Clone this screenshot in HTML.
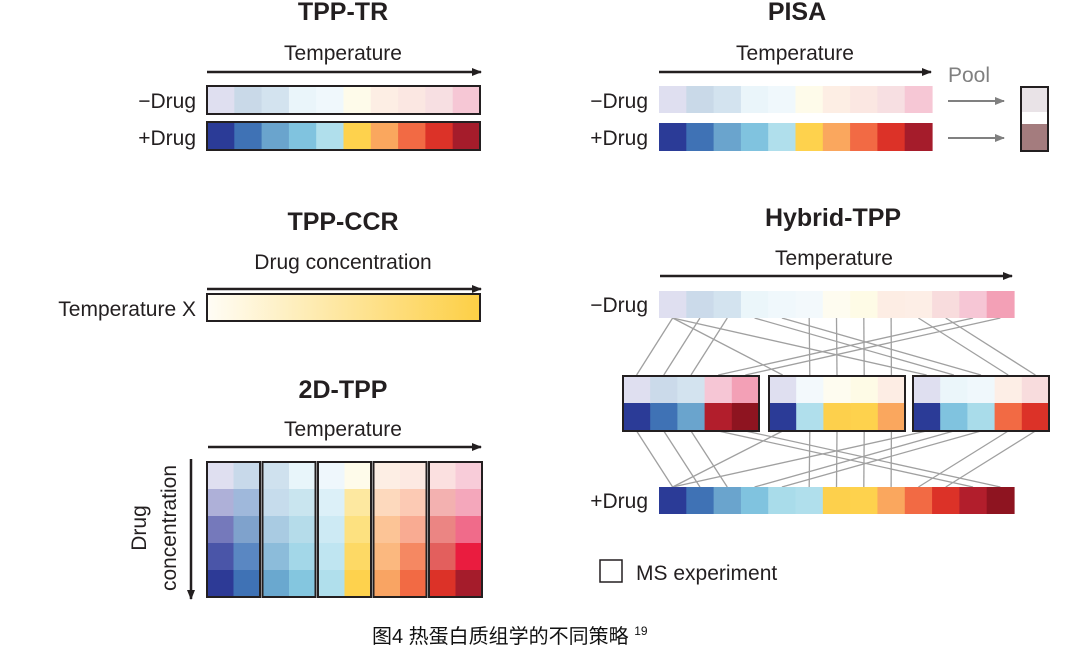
<!DOCTYPE html>
<html><head><meta charset="utf-8"><style>
html,body{margin:0;padding:0;background:#fff;width:1080px;height:666px;overflow:hidden}
svg text{font-family:"Liberation Sans","Noto Sans CJK SC",sans-serif;fill:#231f20}
</style></head><body>
<svg id="s" width="1080" height="666" viewBox="0 0 1080 666" xmlns="http://www.w3.org/2000/svg">
<defs>
<marker id="ah" markerWidth="10" markerHeight="8" refX="9" refY="4" orient="auto" markerUnits="userSpaceOnUse"><path d="M0,0 L10,4 L0,8 Z" fill="#231f20"/></marker>
<marker id="ag" markerWidth="10" markerHeight="8" refX="9" refY="4" orient="auto" markerUnits="userSpaceOnUse"><path d="M0,0 L10,4 L0,8 Z" fill="#808080"/></marker>
<linearGradient id="yg" x1="0" x2="1"><stop offset="0" stop-color="#fffdf6"/><stop offset="1" stop-color="#fdcf45"/></linearGradient>
</defs>
<g id="cells"></g>
<!-- TPP-TR -->
<text x="343" y="20" text-anchor="middle" font-size="25" font-weight="bold">TPP-TR</text>
<text x="343" y="60" text-anchor="middle" font-size="21">Temperature</text>
<line x1="207" y1="72" x2="481" y2="72" stroke="#231f20" stroke-width="2.5" marker-end="url(#ah)"/>
<text x="196" y="108" text-anchor="end" font-size="21">−Drug</text>
<text x="196" y="145" text-anchor="end" font-size="21">+Drug</text>
<!-- TPP-CCR -->
<text x="343" y="230" text-anchor="middle" font-size="25" font-weight="bold">TPP-CCR</text>
<text x="343" y="269" text-anchor="middle" font-size="21">Drug concentration</text>
<line x1="207" y1="289" x2="481" y2="289" stroke="#231f20" stroke-width="2.5" marker-end="url(#ah)"/>
<rect x="207" y="294" width="273" height="27" fill="url(#yg)" stroke="#231f20" stroke-width="2"/>
<text x="196" y="316" text-anchor="end" font-size="21">Temperature X</text>
<!-- 2D-TPP -->
<text x="343" y="398" text-anchor="middle" font-size="25" font-weight="bold">2D-TPP</text>
<text x="343" y="436" text-anchor="middle" font-size="21">Temperature</text>
<line x1="208" y1="447" x2="481" y2="447" stroke="#231f20" stroke-width="2.5" marker-end="url(#ah)"/>
<line x1="191" y1="459" x2="191" y2="599" stroke="#231f20" stroke-width="2.5" marker-end="url(#ah)"/>
<text transform="translate(146,528) rotate(-90)" text-anchor="middle" font-size="21">Drug</text>
<text transform="translate(176,528) rotate(-90)" text-anchor="middle" font-size="21">concentration</text>
<!-- PISA -->
<text x="797" y="20" text-anchor="middle" font-size="25" font-weight="bold">PISA</text>
<text x="795" y="60" text-anchor="middle" font-size="21">Temperature</text>
<line x1="659" y1="72" x2="931" y2="72" stroke="#231f20" stroke-width="2.5" marker-end="url(#ah)"/>
<text x="648" y="108" text-anchor="end" font-size="21">−Drug</text>
<text x="648" y="145" text-anchor="end" font-size="21">+Drug</text>
<text x="948" y="82" font-size="21" style="fill:#808080">Pool</text>
<line x1="948" y1="101" x2="1004" y2="101" stroke="#808080" stroke-width="2" marker-end="url(#ag)"/>
<line x1="948" y1="138" x2="1004" y2="138" stroke="#808080" stroke-width="2" marker-end="url(#ag)"/>
<rect x="1021" y="87" width="27" height="25" fill="#e9e3e7"/>
<rect x="1021" y="124" width="27" height="27" fill="#a47c7e"/>
<rect x="1021" y="87" width="27" height="64" fill="none" stroke="#231f20" stroke-width="2"/>
<!-- Hybrid -->
<text x="833" y="226" text-anchor="middle" font-size="25" font-weight="bold">Hybrid-TPP</text>
<text x="834" y="265" text-anchor="middle" font-size="21">Temperature</text>
<line x1="660" y1="276" x2="1012" y2="276" stroke="#231f20" stroke-width="2.5" marker-end="url(#ah)"/>
<text x="648" y="312" text-anchor="end" font-size="21">−Drug</text>
<text x="648" y="508" text-anchor="end" font-size="21">+Drug</text>
<rect x="600" y="560" width="22" height="22" fill="none" stroke="#231f20" stroke-width="1.5"/>
<text x="636" y="580" font-size="21">MS experiment</text>
<text x="372" y="643" font-size="20" style="fill:#111">图4 热蛋白质组学的不同策略 <tspan font-size="12" dy="-8">19</tspan></text>
</svg>
<script>
var NS="http://www.w3.org/2000/svg",g=document.getElementById("cells");
function R(x,y,w,h,f,st){var r=document.createElementNS(NS,"rect");r.setAttribute("x",x);r.setAttribute("y",y);r.setAttribute("width",w);r.setAttribute("height",h);r.setAttribute("fill",f);if(st){r.setAttribute("stroke","#231f20");r.setAttribute("stroke-width","2");}g.appendChild(r);}
function L(x1,y1,x2,y2){var l=document.createElementNS(NS,"line");l.setAttribute("x1",x1);l.setAttribute("y1",y1);l.setAttribute("x2",x2);l.setAttribute("y2",y2);l.setAttribute("stroke","#a0a0a0");l.setAttribute("stroke-width","1.3");g.appendChild(l);}
function bar(x,y,w,h,cols,border){var cw=w/cols.length;cols.forEach(function(c,i){R(x+i*cw,y,cw+0.6,h,c)});if(border)R(x,y,w,h,"none",1);}
var mT=["#dfdff0","#c9d9e8","#d3e3ef","#eaf5fa","#f0f8fc","#fefbea","#fdeee4","#fbe7e2","#f7dfe2","#f6c7d5"];
var pT=["#2b3b97","#3f72b5","#6aa4cd","#80c3df","#b0dfec","#fed24d","#faa75e","#f26a44","#dc3228","#a51c2b"];
bar(207,86,273,28,mT,1);bar(207,122,273,28,pT,1);
bar(659,86,273,27,mT,0);bar(659,123,273,28,pT,0);
var C=[["#dfdff0","#aeb0d8","#7579bb","#4a55a8","#2d3a96"],["#c8d9ea","#9fb8db","#7fa2cc","#5a87c2","#3f72b5"],["#cfe1ee","#c6dcec","#a9cbe2","#8cbcda","#6aa8cf"],["#e8f5fa","#c9e5ef","#b5dcea","#a3d7e8","#84c6df"],["#eff7fc","#dcf0f8","#cdeaf4","#bfe5f1","#b0dfec"],["#fefbea","#fde8a0","#fde180","#fdd965","#fed24d"],["#fdeee4","#fdd9bd","#fcc496","#fbb87f","#f9a463"],["#fde9e2","#fccab4","#f9ab92","#f58862","#f26a44"],["#fbe0e0","#f3b1b0","#eb8583","#e35f5d","#dc3228"],["#f8ccd9","#f4a7bb","#f06b8a","#ea1c3f","#a51c2b"]];
var bw=53,rh=27;
for(var b=0;b<5;b++){var x0=207+b*55.5;for(var c=0;c<2;c++)for(var r=0;r<5;r++)R(x0+c*bw/2,462+r*rh,bw/2+0.6,rh+0.6,C[b*2+c][r]);R(x0,462,bw,135,"none",1);}
var hm=["#dfdff0","#cbdaea","#d3e3ef","#ebf6fa","#f0f8fc","#f3f9fc","#fefcf0","#fefbe6","#fdede4","#fdeee6","#f8dcdd","#f6c6d5","#f3a0b6"];
var hp=["#2b3b97","#3f72b5","#6aa4cd","#80c3df","#a9dcea","#b0dfec","#fdd04c","#fed24d","#faa75e","#f26a44","#dc3228","#b21e2c","#8e1420"];
var hx=659,hw=355,hc=hw/13;
var boxes=[[623,[0,1,2,11,12]],[769,[0,5,6,7,8]],[913,[0,3,4,9,10]]],BW=136,cw=BW/5;
boxes.forEach(function(B){B[1].forEach(function(k,j){var cx=B[0]+cw*(j+0.5),hx0=hx+hc*(k+0.5);L(hx0,318,cx,375);L(cx,431,hx0,487);});});
bar(hx,291,hw,27,hm,0);bar(hx,487,hw,27,hp,0);
boxes.forEach(function(B){B[1].forEach(function(k,j){R(B[0]+j*cw,376,cw+0.6,28,hm[k]);R(B[0]+j*cw,403,cw+0.6,28,hp[k]);});R(B[0],376,BW,55,"none",1);});
</script>
</body></html>
